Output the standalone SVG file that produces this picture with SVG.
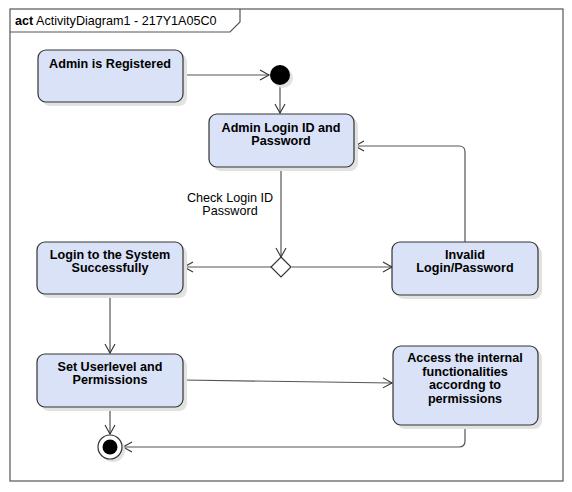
<svg xmlns="http://www.w3.org/2000/svg" width="572" height="492" viewBox="0 0 572 492">
<defs>
<style>
.box{fill:#dae2f7;stroke:#333;stroke-width:1.2}
.sh{fill:#e2e2e2}
.t{font-family:"Liberation Sans",Arial,sans-serif;font-size:12.6px;font-weight:bold;text-anchor:middle;fill:#000}
.n{font-family:"Liberation Sans",Arial,sans-serif;font-size:12.6px;fill:#000}
.c{fill:none;stroke:#555;stroke-width:1.2}
</style>
<marker id="ah" markerWidth="12" markerHeight="12" refX="10" refY="6" orient="auto" markerUnits="userSpaceOnUse">
<path d="M1,1 L10,6 L1,11" fill="none" stroke="#333" stroke-width="1.1"/>
</marker>
</defs>
<rect width="572" height="492" fill="#fff"/>
<g id="frame">
<rect x="10" y="9" width="553" height="472" fill="none" stroke="#555" stroke-width="1.2"/>
<path d="M10,32 L230,32 L240,22 L240,9" fill="none" stroke="#555" stroke-width="1.2"/>
<text x="15" y="25" class="n" font-size="12.8px"><tspan font-weight="bold">act</tspan> ActivityDiagram1 - 217Y1A05C0</text>
</g>
<g id="connectors">
<line class="c" x1="183" y1="75" x2="269" y2="75" marker-end="url(#ah)"/>
<line class="c" x1="280" y1="85" x2="280" y2="113" marker-end="url(#ah)"/>
<line class="c" x1="281" y1="167" x2="281" y2="257" marker-end="url(#ah)"/>
<line class="c" x1="271" y1="267" x2="184" y2="267" marker-end="url(#ah)"/>
<line class="c" x1="292" y1="267" x2="392" y2="267" marker-end="url(#ah)"/>
<path class="c" d="M465,242 L465,152 Q465,146 459,146 L355,146" marker-end="url(#ah)"/>
<line class="c" x1="110" y1="294" x2="110" y2="353" marker-end="url(#ah)"/>
<line class="c" x1="110" y1="407" x2="110" y2="434" marker-end="url(#ah)"/>
<line class="c" x1="183" y1="380" x2="392" y2="383" marker-end="url(#ah)"/>
<path class="c" d="M465,425 L465,441 Q465,447 459,447 L123,447" marker-end="url(#ah)"/>
<text x="230" y="201.5" class="n" text-anchor="middle">Check Login ID</text>
<text x="230" y="215" class="n" text-anchor="middle">Password</text>
</g>
<g id="n_registered">
<rect class="sh" x="42" y="54" width="145" height="52" rx="8"/>
<rect class="box" x="38" y="50" width="145" height="52" rx="8"/>
<text x="110" y="68" class="t">Admin is Registered</text>
</g>
<g id="n_initial">
<circle cx="283" cy="78" r="10" fill="#e2e2e2"/>
<circle cx="280" cy="75" r="10" fill="#000"/>
</g>
<g id="n_login">
<rect class="sh" x="213" y="118" width="145" height="53" rx="8"/>
<rect class="box" x="209" y="114" width="145" height="53" rx="8"/>
<text x="281" y="131.5" class="t">Admin Login ID and</text>
<text x="281" y="145" class="t">Password</text>
</g>
<g id="n_decision">
<polygon points="281,257 291,267 281,277 271,267" fill="#fff" stroke="#333" stroke-width="1.2"/>
</g>
<g id="n_success">
<rect class="sh" x="41" y="246" width="146" height="52" rx="8"/>
<rect class="box" x="37" y="242" width="146" height="52" rx="8"/>
<text x="110" y="258.5" class="t">Login to the System</text>
<text x="110" y="272" class="t">Successfully</text>
</g>
<g id="n_invalid">
<rect class="sh" x="396" y="246" width="146" height="53" rx="8"/>
<rect class="box" x="392" y="242" width="146" height="53" rx="8"/>
<text x="465" y="258.5" class="t">Invalid</text>
<text x="465" y="272" class="t">Login/Password</text>
</g>
<g id="n_setlevel">
<rect class="sh" x="41" y="358" width="146" height="53" rx="8"/>
<rect class="box" x="37" y="354" width="146" height="53" rx="8"/>
<text x="110" y="370.5" class="t">Set Userlevel and</text>
<text x="110" y="384" class="t">Permissions</text>
</g>
<g id="n_access">
<rect class="sh" x="397" y="350" width="145" height="79" rx="8"/>
<rect class="box" x="393" y="346" width="145" height="79" rx="8"/>
<text x="465" y="362" class="t">Access the internal</text>
<text x="465" y="375.5" class="t">functionalities</text>
<text x="465" y="389" class="t">accordng to</text>
<text x="465" y="402.5" class="t">permissions</text>
</g>
<g id="n_final">
<circle cx="113" cy="450" r="12" fill="#e2e2e2"/>
<circle cx="110" cy="447" r="12" fill="#fff" stroke="#333" stroke-width="1.2"/>
<circle cx="110" cy="447" r="7.5" fill="#000"/>
</g>
</svg>
